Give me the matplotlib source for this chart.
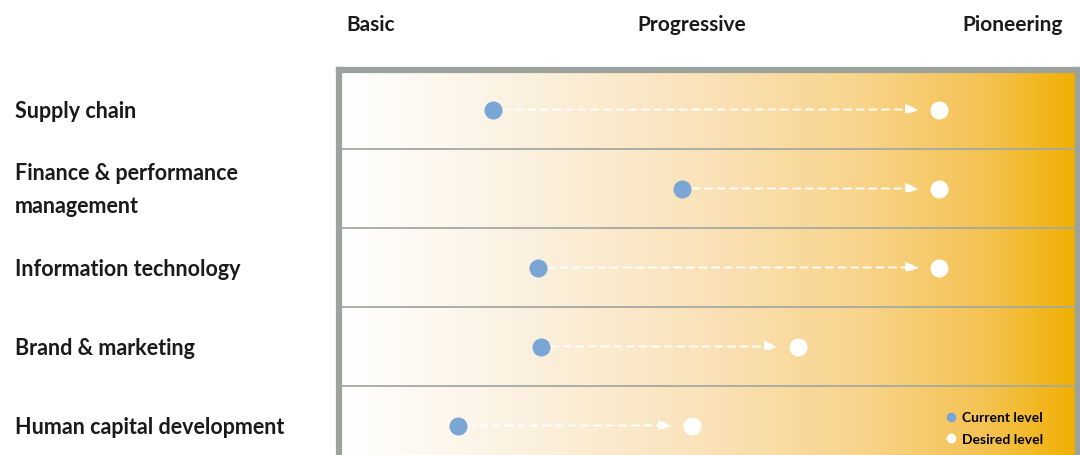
import matplotlib.pyplot as plt
import numpy as np
from matplotlib.colors import LinearSegmentedColormap
from matplotlib.lines import Line2D
import matplotlib.transforms as mtransforms

plt.rcParams['font.family'] = ['Lato', 'DejaVu Sans']

# data
categories = ["Supply chain", "Finance & performance\nmanagement", "Information technology",
              "Brand & marketing", "Human capital development"]
levels = ["Basic", "Progressive", "Pioneering"]
current = [0.38, 0.97, 0.52, 0.53, 0.27]
desired = [1.77, 1.77, 1.77, 1.33, 1.00]

W, H = 1080, 456
fig = plt.figure(figsize=(W / 100, H / 100), dpi=100)

# panel axes (pixel box: x 339..1078, y 71..466)
left, right, top, bottom = 339, 1078, 71, 466
ax = fig.add_axes([left / W, 1 - bottom / H, (right - left) / W, (bottom - top) / H])
ax.set_xlim(-0.0997, 2.2025)
ax.set_ylim(4.5, -0.5)

# background gradient
cmap = LinearSegmentedColormap.from_list("grad", [
    (0.0, "#ffffff"), (0.25, "#fcf1e0"), (0.5, "#fae2b8"),
    (0.72, "#f8d388"), (0.88, "#f4c250"), (1.0, "#f0b000")])
grad = np.linspace(0, 1, 256).reshape(1, -1)
ax.imshow(grad, cmap=cmap, aspect='auto', extent=(-0.0997, 2.2025, 4.5, -0.5), zorder=0)

for s in ax.spines.values():
    s.set_color("#9ba39c")
    s.set_linewidth(4.5)
ax.set_xticks([])
ax.set_yticks([])

# row separators
for i in range(1, len(categories)):
    ax.axhline(i - 0.5, color="#a3aaa3", lw=1.3, zorder=1)

# arrows and dots
for i, (c, d) in enumerate(zip(current, desired)):
    ax.annotate("", xy=(d, i), xytext=(c, i),
                arrowprops=dict(arrowstyle="-|>,head_length=0.8,head_width=0.3", color="white",
                                lw=1.3, linestyle=(0, (4, 3)), shrinkA=7, shrinkB=14),
                zorder=2)
ax.plot(current, range(len(categories)), 'o', color="#79a6d4", ms=13, mec='none', zorder=3)
ax.plot(desired, range(len(categories)), 'o', color="white", ms=13, mec='none', zorder=3)

# header labels
hdr = mtransforms.blended_transform_factory(ax.transData, fig.transFigure)
for j, lab in enumerate(levels):
    ax.text(j, 1 - 25 / H, lab, transform=hdr, ha='center', va='center',
            fontsize=15, fontweight='bold', color="#1a1a1a", clip_on=False)

# category labels
lbl = mtransforms.blended_transform_factory(fig.transFigure, ax.transData)
for i, cat in enumerate(categories):
    ax.text(15 / W, i + 0.01, cat, transform=lbl, ha='left', va='center',
            fontsize=15.5, fontweight='bold', color="#1a1a1a", linespacing=1.7, clip_on=False)

# legend
handles = [Line2D([], [], marker='o', ls='none', color="#79a6d4", ms=7, mec='none'),
           Line2D([], [], marker='o', ls='none', color="white", ms=7, mec='none')]
fig.legend(handles, ["Current level", "Desired level"], loc='upper left',
           bbox_to_anchor=(930 / W, 1 - 400 / H), frameon=False, handletextpad=0.2,
           handlelength=1.2, labelspacing=0.65, prop=dict(size=10, weight='bold'))

fig.savefig("out.png", dpi=100)
